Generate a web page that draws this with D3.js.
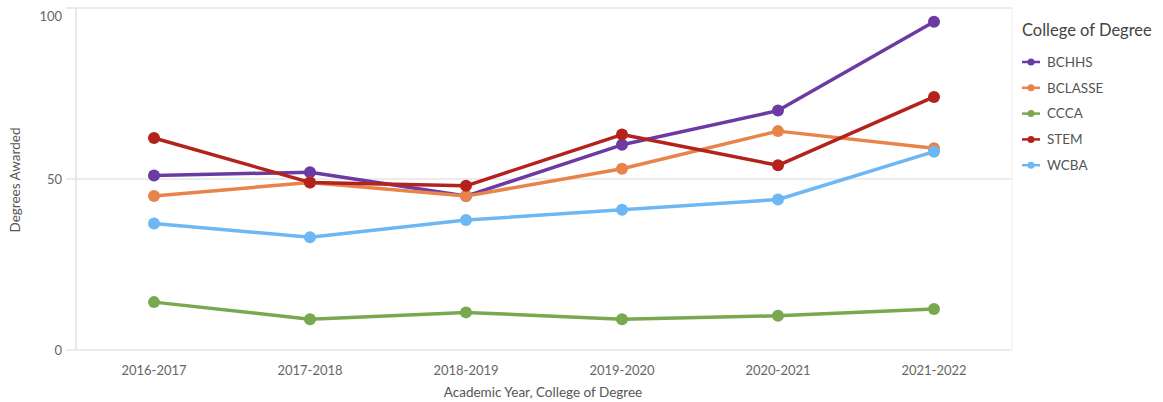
<!DOCTYPE html>
<html>
<head>
<meta charset="utf-8">
<script src="https://cdn.jsdelivr.net/npm/d3@7"></script>
<style>
  body { margin: 0; background: #fff; }
  svg { display: block; font-family: "Source Sans Pro", Lato, "Open Sans", sans-serif; }
</style>
</head>
<body>
<svg id="chart" width="1163" height="402"></svg>
<script>
// Degrees awarded per academic year, by college
const years = ["2016-2017", "2017-2018", "2018-2019", "2019-2020", "2020-2021", "2021-2022"];
const colleges = ["BCHHS", "BCLASSE", "CCCA", "STEM", "WCBA"];
const bchhs   = [51, 52, 45, 60, 70, 96];
const bclasse = [45, 49, 45, 53, 64, 59];
const ccca    = [14, 9, 11, 9, 10, 12];
const stem    = [62, 49, 48, 63, 54, 74];
const wcba    = [37, 33, 38, 41, 44, 58];
const yTicks  = [0, 50, 100];
const colors  = ["#6b3aa3", "#e8834a", "#78a84f", "#b3221c", "#6cb7f4"];

const series = [bchhs, bclasse, ccca, stem, wcba].map((values, i) => ({
  name: colleges[i],
  color: colors[i],
  values: values.map((v, j) => ({ year: years[j], value: v }))
}));

const svg = d3.select("#chart");
const plot = { left: 76, right: 1012, top: 8, bottom: 350 };

const x = d3.scaleBand().domain(years).range([plot.left, plot.right]);
const y = d3.scaleLinear().domain([0, 100]).range([plot.bottom, plot.top]);

// grid lines
svg.append("g")
  .selectAll("line")
  .data(yTicks)
  .join("line")
  .attr("x1", plot.left - 10)
  .attr("x2", plot.right)
  .attr("y1", d => y(d))
  .attr("y2", d => y(d))
  .attr("stroke", "#e6e6e6")
  .attr("stroke-width", 1.5);

// left axis line and right frame edge
svg.append("line")
  .attr("x1", plot.left).attr("x2", plot.left)
  .attr("y1", plot.top).attr("y2", plot.bottom)
  .attr("stroke", "#e2e2e2").attr("stroke-width", 1.5);
svg.append("line")
  .attr("x1", plot.right).attr("x2", plot.right)
  .attr("y1", plot.top).attr("y2", plot.bottom)
  .attr("stroke", "#efefef").attr("stroke-width", 1);

// y tick labels
svg.append("g")
  .selectAll("text")
  .data(yTicks)
  .join("text")
  .attr("x", plot.left - 14)
  .attr("y", d => d === 100 ? y(d) + 8 : y(d))
  .attr("dy", "0.35em")
  .attr("text-anchor", "end")
  .attr("font-size", 13)
  .attr("fill", "#666")
  .text(d => d);

// x tick labels
svg.append("g")
  .selectAll("text")
  .data(years)
  .join("text")
  .attr("x", d => x(d) + x.bandwidth() / 2)
  .attr("y", 370)
  .attr("dy", "0.35em")
  .attr("text-anchor", "middle")
  .attr("font-size", 13)
  .attr("fill", "#666")
  .text(d => d);

// axis titles
svg.append("text")
  .attr("x", (plot.left + plot.right) / 2 - 1)
  .attr("y", 392)
  .attr("dy", "0.35em")
  .attr("text-anchor", "middle")
  .attr("font-size", 13.5)
  .attr("fill", "#555")
  .text("Academic Year, College of Degree");

svg.append("text")
  .attr("transform", `translate(15,${(plot.top + plot.bottom) / 2 + 1}) rotate(-90)`)
  .attr("dy", "0.35em")
  .attr("text-anchor", "middle")
  .attr("font-size", 13.5)
  .attr("fill", "#555")
  .text("Degrees Awarded");

// lines and points
const line = d3.line()
  .x(d => x(d.year) + x.bandwidth() / 2)
  .y(d => y(d.value));

const groups = svg.append("g")
  .selectAll("g")
  .data(series)
  .join("g");

groups.append("path")
  .attr("d", d => line(d.values))
  .attr("fill", "none")
  .attr("stroke", d => d.color)
  .attr("stroke-width", 3.5)
  .attr("stroke-linejoin", "round");

groups.selectAll("circle")
  .data(d => d.values.map(v => ({ ...v, color: d.color })))
  .join("circle")
  .attr("cx", d => x(d.year) + x.bandwidth() / 2)
  .attr("cy", d => y(d.value))
  .attr("r", 6)
  .attr("fill", d => d.color);

// legend
const legend = svg.append("g").attr("transform", "translate(1022,0)");
legend.append("text")
  .attr("x", 0)
  .attr("y", 30)
  .attr("dy", "0.35em")
  .attr("font-size", 16.5)
  .attr("fill", "#444")
  .text("College of Degree");

const items = legend.selectAll("g.item")
  .data(series)
  .join("g")
  .attr("class", "item")
  .attr("transform", (d, i) => `translate(0,${62 + i * 25.8})`);

items.append("line")
  .attr("x1", 0).attr("x2", 18)
  .attr("stroke", d => d.color)
  .attr("stroke-width", 2.5);
items.append("circle")
  .attr("cx", 9)
  .attr("r", 3.5)
  .attr("fill", d => d.color);
items.append("text")
  .attr("x", 25)
  .attr("dy", "0.35em")
  .attr("font-size", 13.5)
  .attr("fill", "#555")
  .text(d => d.name);
</script>
</body>
</html>
